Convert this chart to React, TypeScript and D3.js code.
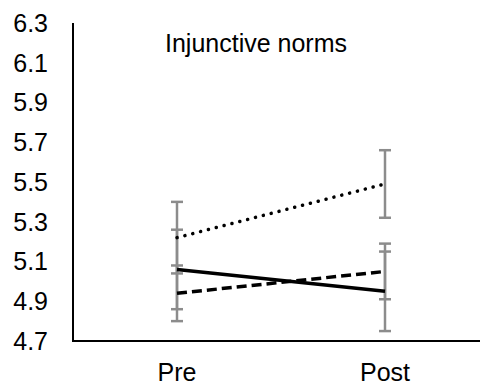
import { useEffect, useRef } from 'react'
import * as d3 from 'd3'

const categories = ['Pre', 'Post']
const yTicks = [4.7, 4.9, 5.1, 5.3, 5.5, 5.7, 5.9, 6.1, 6.3]

// three conditions, mean and error per time point
const solidValues = [5.06, 4.95]
const solidErrors = [0.2, 0.2]
const dashedValues = [4.94, 5.05]
const dashedErrors = [0.14, 0.14]
const dottedValues = [5.22, 5.49]
const dottedErrors = [0.18, 0.17]

const chartTitle = 'Injunctive norms'

const width = 480
const height = 390

export default function App() {
  const svgRef = useRef<SVGSVGElement>(null)

  useEffect(() => {
    if (!svgRef.current) return
    const svg = d3.select(svgRef.current)
    svg.selectAll('*').remove()

    const left = 73
    const top = 23
    const bottom = 341

    const x = d3.scaleBand<string>().domain(categories).range([left, 489]).padding(0)
    const cx = (c: string) => (x(c) || 0) + x.bandwidth() / 2
    const y = d3.scaleLinear().domain([4.7, 6.3]).range([bottom, top])

    const font = 'Arial, "Liberation Sans", sans-serif'

    // y tick labels
    svg
      .append('g')
      .selectAll('text')
      .data(yTicks)
      .enter()
      .append('text')
      .attr('x', 48)
      .attr('y', (d) => y(d))
      .attr('dy', '0.35em')
      .attr('text-anchor', 'end')
      .attr('font-family', font)
      .attr('font-size', 25)
      .attr('fill', '#000')
      .text((d) => d.toFixed(1))

    // category labels
    svg
      .append('g')
      .selectAll('text')
      .data(categories)
      .enter()
      .append('text')
      .attr('x', (d) => cx(d))
      .attr('y', 381)
      .attr('text-anchor', 'middle')
      .attr('font-family', font)
      .attr('font-size', 25)
      .attr('fill', '#000')
      .text((d) => d)

    // axes
    svg
      .append('line')
      .attr('x1', left)
      .attr('x2', left)
      .attr('y1', top)
      .attr('y2', bottom)
      .attr('stroke', '#000')
      .attr('stroke-width', 2)
    svg
      .append('line')
      .attr('x1', left - 1)
      .attr('x2', width)
      .attr('y1', bottom)
      .attr('y2', bottom)
      .attr('stroke', '#000')
      .attr('stroke-width', 2)

    // title
    svg
      .append('text')
      .attr('x', 165)
      .attr('y', 52)
      .attr('font-family', font)
      .attr('font-size', 25)
      .attr('fill', '#000')
      .text(chartTitle)

    const series = [
      { values: solidValues, errors: solidErrors, dash: null as string | null, cap: 'butt' },
      { values: dashedValues, errors: dashedErrors, dash: '10,5', cap: 'butt' },
      { values: dottedValues, errors: dottedErrors, dash: '0.1,8', cap: 'round' },
    ]

    // error bars
    const errG = svg.append('g')
    series.forEach((s) => {
      categories.forEach((c, i) => {
        const px = cx(c)
        const hi = y(s.values[i] + s.errors[i])
        const lo = y(s.values[i] - s.errors[i])
        errG
          .append('line')
          .attr('x1', px)
          .attr('x2', px)
          .attr('y1', hi)
          .attr('y2', lo)
          .attr('stroke', '#8c8c8c')
          .attr('stroke-width', 2.5)
        ;[hi, lo].forEach((yy) => {
          errG
            .append('line')
            .attr('x1', px - 6)
            .attr('x2', px + 6)
            .attr('y1', yy)
            .attr('y2', yy)
            .attr('stroke', '#8c8c8c')
            .attr('stroke-width', 2.5)
        })
      })
    })

    // lines
    const line = d3
      .line<number>()
      .x((_, i) => cx(categories[i]))
      .y((d) => y(d))

    series.forEach((s) => {
      const p = svg
        .append('path')
        .datum(s.values)
        .attr('d', line)
        .attr('fill', 'none')
        .attr('stroke', '#000')
        .attr('stroke-width', s.cap === 'round' ? 3.5 : 3.5)
        .attr('stroke-linecap', s.cap)
      if (s.dash) p.attr('stroke-dasharray', s.dash)
    })
  }, [])

  return (
    <svg
      ref={svgRef}
      width={width}
      height={height}
      style={{ position: 'absolute', left: 0, top: 0, background: '#fff' }}
    />
  )
}
